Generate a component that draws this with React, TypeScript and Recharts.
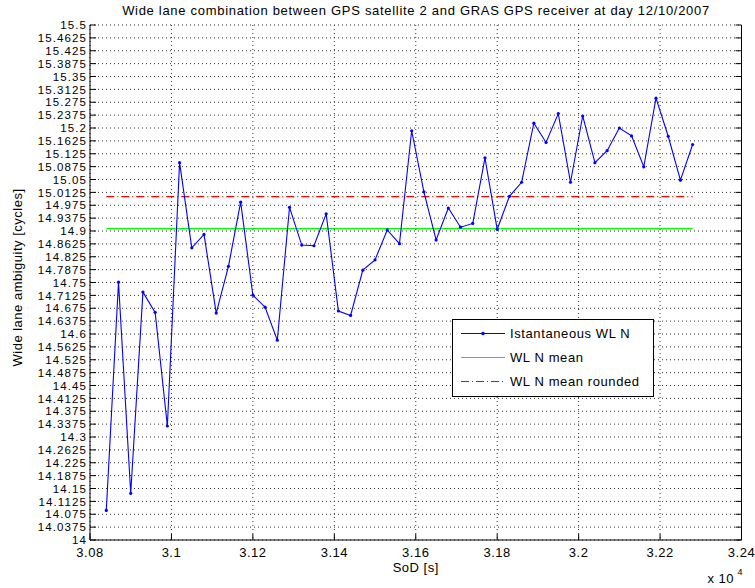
import React from 'react';
import {
  ComposedChart,
  Line,
  XAxis,
  YAxis,
  CartesianGrid,
  ReferenceLine,
  Legend,
} from 'recharts';

// Seconds of day of each epoch
const sod = [
  30840, 30870, 30900, 30930, 30960, 30990, 31020, 31050, 31080, 31110,
  31140, 31170, 31200, 31230, 31260, 31290, 31320, 31350, 31380, 31410,
  31440, 31470, 31500, 31530, 31560, 31590, 31620, 31650, 31680, 31710,
  31740, 31770, 31800, 31830, 31860, 31890, 31920, 31950, 31980, 32010,
  32040, 32070, 32100, 32130, 32160, 32190, 32220, 32250, 32280,
];

// Instantaneous wide lane ambiguity [cycles]
const wlN = [
  14.086, 14.751, 14.136, 14.722, 14.663, 14.332, 15.099, 14.851, 14.89, 14.661,
  14.797, 14.984, 14.713, 14.678, 14.582, 14.969, 14.859, 14.857, 14.95, 14.667,
  14.654, 14.786, 14.816, 14.903, 14.863, 15.192, 15.014, 14.874, 14.967, 14.911,
  14.922, 15.113, 14.905, 15.001, 15.042, 15.214, 15.158, 15.242, 15.042, 15.235,
  15.099, 15.134, 15.2, 15.177, 15.087, 15.287, 15.176, 15.048, 15.152,
];

const wlMean = 14.907;
const wlMeanRounded = 15;

const xTicks = [30800, 31000, 31200, 31400, 31600, 31800, 32000, 32200, 32400];

const yTicks = [
  14, 14.0375, 14.075, 14.1125, 14.15, 14.1875, 14.225, 14.2625, 14.3, 14.3375,
  14.375, 14.4125, 14.45, 14.4875, 14.525, 14.5625, 14.6, 14.6375, 14.675, 14.7125,
  14.75, 14.7875, 14.825, 14.8625, 14.9, 14.9375, 14.975, 15.0125, 15.05, 15.0875,
  15.125, 15.1625, 15.2, 15.2375, 15.275, 15.3125, 15.35, 15.3875, 15.425, 15.4625,
  15.5,
];

const legendItems = [
  { name: 'Istantaneous WL N', color: '#0000ff', dash: undefined, marker: true },
  { name: 'WL N mean', color: '#00ff00', dash: undefined, marker: false },
  { name: 'WL N mean rounded', color: '#ff0000', dash: '8 3 1 3', marker: false },
];

const data = sod.map((t, i) => ({ sod: t, wl: wlN[i] }));

const FONT = '"Liberation Sans", Arial, Helvetica, sans-serif';
const FS = 13;
const LS = 0.5;
const TICK = 6;

const fmt = (v: number) => String(Number(v.toFixed(4)));

// y tick labels are packed tightly (41 ticks), so a slightly smaller, wider-spaced face
const LeftTick = ({ x, y, payload }: any) => (
  <g>
    <line x1={x} x2={x + TICK} y1={y} y2={y} stroke="#000" />
    <text
      x={x - 3}
      y={y}
      dy="0.36em"
      textAnchor="end"
      fontSize={11.5}
      letterSpacing={1.1}
      fontFamily={FONT}
      fill="#000"
    >
      {fmt(payload.value)}
    </text>
  </g>
);

const RightTick = ({ x, y }: any) => (
  <line x1={x - TICK} x2={x} y1={y} y2={y} stroke="#000" />
);

const BottomTick = ({ x, y, payload }: any) => (
  <g>
    <line x1={x} x2={x} y1={y - TICK} y2={y} stroke="#000" />
    <text
      x={x}
      y={y + 17}
      textAnchor="middle"
      fontSize={FS}
      letterSpacing={LS}
      fontFamily={FONT}
      fill="#000"
    >
      {fmt(payload.value / 10000)}
    </text>
  </g>
);

const TopTick = ({ x, y }: any) => (
  <line x1={x} x2={x} y1={y} y2={y + TICK} stroke="#000" />
);

const XLabel = ({ viewBox }: any) => (
  <g fontFamily={FONT} fill="#000" letterSpacing={LS}>
    <text x={viewBox.x + viewBox.width / 2} y={viewBox.y + 32} textAnchor="middle" fontSize={FS}>
      SoD [s]
    </text>
    <text x={viewBox.x + viewBox.width - 34} y={viewBox.y + 43} fontSize={FS}>
      x 10
    </text>
    <text x={viewBox.x + viewBox.width - 4} y={viewBox.y + 35} fontSize={9}>
      4
    </text>
  </g>
);

const YLabel = ({ viewBox }: any) => {
  const cx = viewBox.x - 13;
  const cy = viewBox.y + viewBox.height / 2 - 5;
  return (
    <text
      x={cx}
      y={cy}
      transform={`rotate(-90 ${cx} ${cy})`}
      textAnchor="middle"
      dy="0.36em"
      fontSize={FS}
      letterSpacing={LS}
      fontFamily={FONT}
      fill="#000"
    >
      Wide lane ambiguity [cycles]
    </text>
  );
};

const LegendBox = () => (
  <svg width={202} height={78} style={{ display: 'block' }}>
    <rect x={0.5} y={0.5} width={201} height={77} fill="#fff" stroke="#000" />
    {legendItems.map((item, i) => {
      const y = 14.5 + i * 24;
      return (
        <g key={item.name}>
          <line x1={9} x2={53} y1={y} y2={y} stroke={item.color} strokeDasharray={item.dash} />
          {item.marker && <circle cx={31} cy={y} r={1.8} fill={item.color} />}
          <text
            x={58}
            y={y}
            dy="0.36em"
            fontSize={FS}
            letterSpacing={0.6}
            fontFamily={FONT}
            fill="#000"
          >
            {item.name}
          </text>
        </g>
      );
    })}
  </svg>
);

export default function App() {
  return (
    <div style={{ position: 'absolute', left: 0, top: 0, width: 755, height: 588, background: '#fff' }}>
      <div
        style={{
          position: 'absolute',
          left: 90,
          top: 3,
          width: 652,
          textAlign: 'center',
          fontFamily: FONT,
          fontSize: FS,
          letterSpacing: 0.7,
          lineHeight: '15px',
          color: '#000',
          whiteSpace: 'nowrap',
        }}
      >
        Wide lane combination between GPS satellite 2 and GRAS GPS receiver at day 12/10/2007
      </div>
      <ComposedChart
        width={755}
        height={588}
        data={data}
        margin={{ top: 25, right: 13, bottom: 18, left: 30 }}
      >
        <CartesianGrid
          stroke="#333"
          strokeDasharray="1 3"
          horizontalValues={yTicks}
          verticalValues={xTicks}
        />
        <XAxis
          xAxisId={0}
          dataKey="sod"
          type="number"
          domain={[30800, 32400]}
          ticks={xTicks}
          interval={0}
          height={30}
          tickSize={0}
          tickMargin={0}
          tickLine={false}
          tick={BottomTick}
          stroke="#000"
          allowDataOverflow
          label={{ content: XLabel }}
        />
        <XAxis
          xAxisId="top"
          orientation="top"
          type="number"
          domain={[30800, 32400]}
          ticks={xTicks}
          interval={0}
          height={0}
          tickSize={0}
          tickMargin={0}
          tickLine={false}
          tick={TopTick}
          stroke="#000"
          allowDataOverflow
        />
        <YAxis
          yAxisId={0}
          type="number"
          domain={[14, 15.5]}
          ticks={yTicks}
          interval={0}
          width={60}
          tickSize={0}
          tickMargin={0}
          tickLine={false}
          tick={LeftTick}
          stroke="#000"
          allowDataOverflow
          label={{ content: YLabel }}
        />
        <YAxis
          yAxisId="right"
          orientation="right"
          type="number"
          domain={[14, 15.5]}
          ticks={yTicks}
          interval={0}
          width={0.5}
          tickSize={0}
          tickMargin={0}
          tickLine={false}
          tick={RightTick}
          stroke="#000"
          allowDataOverflow
        />
        <ReferenceLine
          segment={[
            { x: sod[0], y: wlMean },
            { x: sod[sod.length - 1], y: wlMean },
          ]}
          stroke="#00ff00"
          strokeWidth={1.2}
        />
        <ReferenceLine
          segment={[
            { x: sod[0], y: wlMeanRounded },
            { x: sod[sod.length - 1], y: wlMeanRounded },
          ]}
          stroke="#ff0000"
          strokeWidth={1.2}
          strokeDasharray="8 3 1 3"
        />
        <Line
          dataKey="wl"
          type="linear"
          stroke="#0000ff"
          strokeWidth={1.1}
          dot={{ r: 1.6, fill: '#0000ff', stroke: 'none' }}
          activeDot={false}
          isAnimationActive={false}
        />
        <Legend
          layout="vertical"
          align="center"
          verticalAlign="middle"
          content={LegendBox}
          wrapperStyle={{ position: 'absolute', left: 452, top: 319, width: 202, height: 78 }}
        />
      </ComposedChart>
    </div>
  );
}
